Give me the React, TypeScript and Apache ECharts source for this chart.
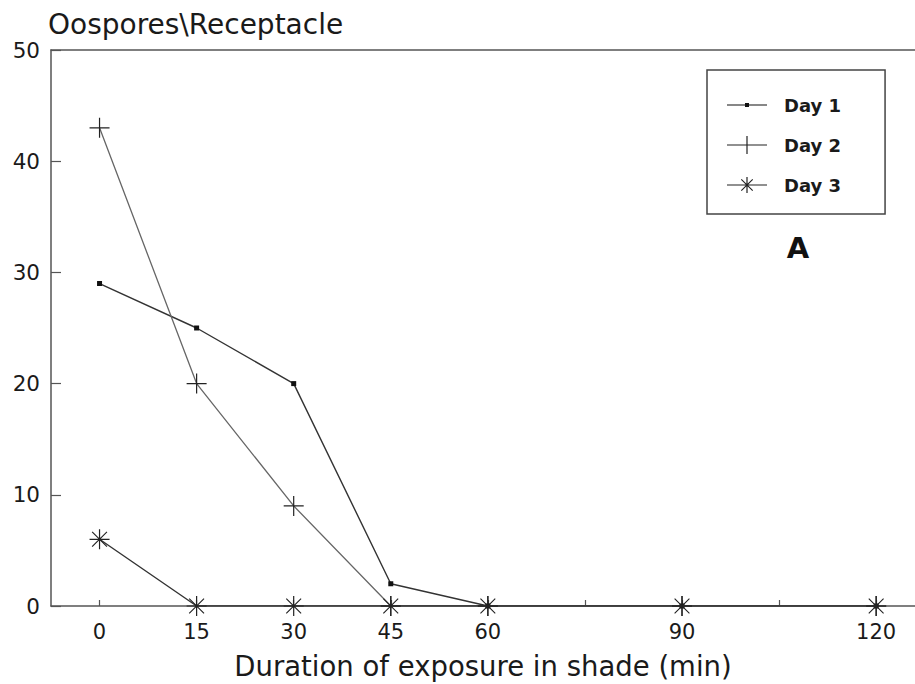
import React, { useEffect, useRef } from "react";
import * as echarts from "echarts";

// ---- data ----
const xValues = [0, 15, 30, 45, 60, 90, 120];
const day1 = [29, 25, 20, 2, 0, 0, 0];
const day2 = [43, 20, 9, 0, 0, 0, 0];
const day3 = [6, 0, 0, 0, 0, 0, 0];
const seriesNames = ["Day 1", "Day 2", "Day 3"];
const xTickValues = [0, 15, 30, 45, 60, 75, 90, 105, 120];
const xLabelValues = [0, 15, 30, 45, 60, 90, 120];
const yAxisTitle = "Oospores\\Receptacle";
const xAxisTitle = "Duration of exposure in shade (min)";
const panelLetter = "A";

// ---- marker shapes ----
const PLUS = "path://M0,47 L100,47 L100,53 L0,53 Z M47,0 L53,0 L53,100 L47,100 Z";
const ASTERISK =
  "path://M0,47 L100,47 L100,53 L0,53 Z M47,0 L53,0 L53,100 L47,100 Z " +
  "M11,15 L15,11 L89,85 L85,89 Z M85,11 L89,15 L15,89 L11,85 Z";

const CORNERS = "M0,0 L1,0 L0,1 Z M400,180 L399,180 L400,179 Z";
const LEG_LINE = "M0,84 L400,84 L400,96 L0,96 Z";
const LEG1 = "path://" + CORNERS + " " + LEG_LINE + " M180,70 L220,70 L220,110 L180,110 Z";
const LEG2 = "path://" + CORNERS + " " + LEG_LINE + " M194,0 L206,0 L206,180 L194,180 Z";
const LEG3 =
  "path://" + CORNERS + " " + LEG_LINE +
  " M194,10 L206,10 L206,170 L194,170 Z" +
  " M139,37 L147,29 L261,143 L253,151 Z M253,29 L261,37 L147,151 L139,143 Z";

const FONT = "DejaVu Sans";

function pairs(ys: number[]) {
  return ys.map((y, i) => [xValues[i], y]);
}

export default function App() {
  const ref = useRef<HTMLDivElement>(null);
  useEffect(() => {
    if (!ref.current) return;
    const chart = echarts.init(ref.current, null, { renderer: "svg" });
    const axisColor = "#555";
    const textColor = "#1a1a1a";
    chart.setOption({
      animation: false,
      backgroundColor: "#fff",
      grid: { left: 51, top: 50, right: 0, bottom: 78, outerBoundsMode: "none" },
      legend: {
        left: 707,
        top: 70,
        orient: "vertical",
        padding: [26, 44, 20, 20],
        itemWidth: 40,
        itemHeight: 18,
        itemGap: 22,
        borderColor: "#444",
        borderWidth: 1.5,
        selectedMode: false,
        itemStyle: { borderWidth: 0 },
        textStyle: {
          fontFamily: FONT,
          fontWeight: "bold",
          fontSize: 18,
          color: textColor,
          padding: [0, 0, 0, 12],
        },
        data: [
          { name: seriesNames[0], icon: LEG1 },
          { name: seriesNames[1], icon: LEG2 },
          { name: seriesNames[2], icon: LEG3 },
        ],
      },
      xAxis: [
        {
          type: "value",
          min: -7.5,
          max: 126,
          name: xAxisTitle,
          nameLocation: "middle",
          nameGap: 46,
          nameTextStyle: { fontFamily: FONT, fontSize: 27.5, color: textColor },
          axisLine: { show: true, onZero: false, lineStyle: { color: axisColor, width: 1.5 } },
          axisTick: {
            show: true,
            inside: true,
            length: 6,
            customValues: xTickValues,
            lineStyle: { color: axisColor, width: 1.2 },
          },
          axisLabel: {
            customValues: xLabelValues,
            fontFamily: FONT,
            fontSize: 21,
            color: textColor,
            margin: 15,
          },
          splitLine: { show: false },
        },
        {
          type: "value",
          position: "top",
          min: -7.5,
          max: 126,
          axisLine: { show: true, onZero: false, lineStyle: { color: axisColor, width: 1.5 } },
          axisTick: { show: false },
          axisLabel: { show: false },
          splitLine: { show: false },
        },
      ],
      yAxis: {
        type: "value",
        min: 0,
        max: 50,
        interval: 10,
        name: yAxisTitle,
        nameLocation: "end",
        nameGap: 12,
        nameTextStyle: {
          fontFamily: FONT,
          fontSize: 28,
          color: textColor,
          align: "left",
          verticalAlign: "bottom",
          padding: [0, 0, 0, -3],
        },
        axisLine: { show: true, onZero: false, lineStyle: { color: axisColor, width: 1.5 } },
        axisTick: { show: true, inside: true, length: 10, lineStyle: { color: axisColor, width: 1.2 } },
        axisLabel: { fontFamily: FONT, fontSize: 21.5, color: textColor, margin: 11 },
        splitLine: { show: false },
      },
      graphic: [
        {
          type: "text",
          x: 798,
          y: 248,
          style: {
            text: panelLetter,
            fontFamily: FONT,
            fontWeight: "bold",
            fontSize: 29,
            fill: "#111",
            textAlign: "center",
            textVerticalAlign: "middle",
          },
        },
      ],
      series: [
        {
          name: seriesNames[0],
          type: "line",
          data: pairs(day1),
          symbol: "rect",
          symbolSize: 5,
          itemStyle: { color: "#111", borderWidth: 0 },
          lineStyle: { color: "#333", width: 1.4 },
          z: 2,
        },
        {
          name: seriesNames[1],
          type: "line",
          data: pairs(day2),
          symbol: PLUS,
          symbolSize: 20,
          itemStyle: { color: "#222", borderWidth: 0 },
          lineStyle: { color: "#666", width: 1.3 },
          z: 3,
        },
        {
          name: seriesNames[2],
          type: "line",
          data: pairs(day3),
          symbol: ASTERISK,
          symbolSize: 20,
          itemStyle: { color: "#222", borderWidth: 0 },
          lineStyle: { color: "#333", width: 1.4 },
          z: 4,
        },
      ],
    });
    return () => chart.dispose();
  }, []);
  return (
    <div
      ref={ref}
      style={{ position: "absolute", left: 0, top: 0, width: 915, height: 684 }}
    />
  );
}
